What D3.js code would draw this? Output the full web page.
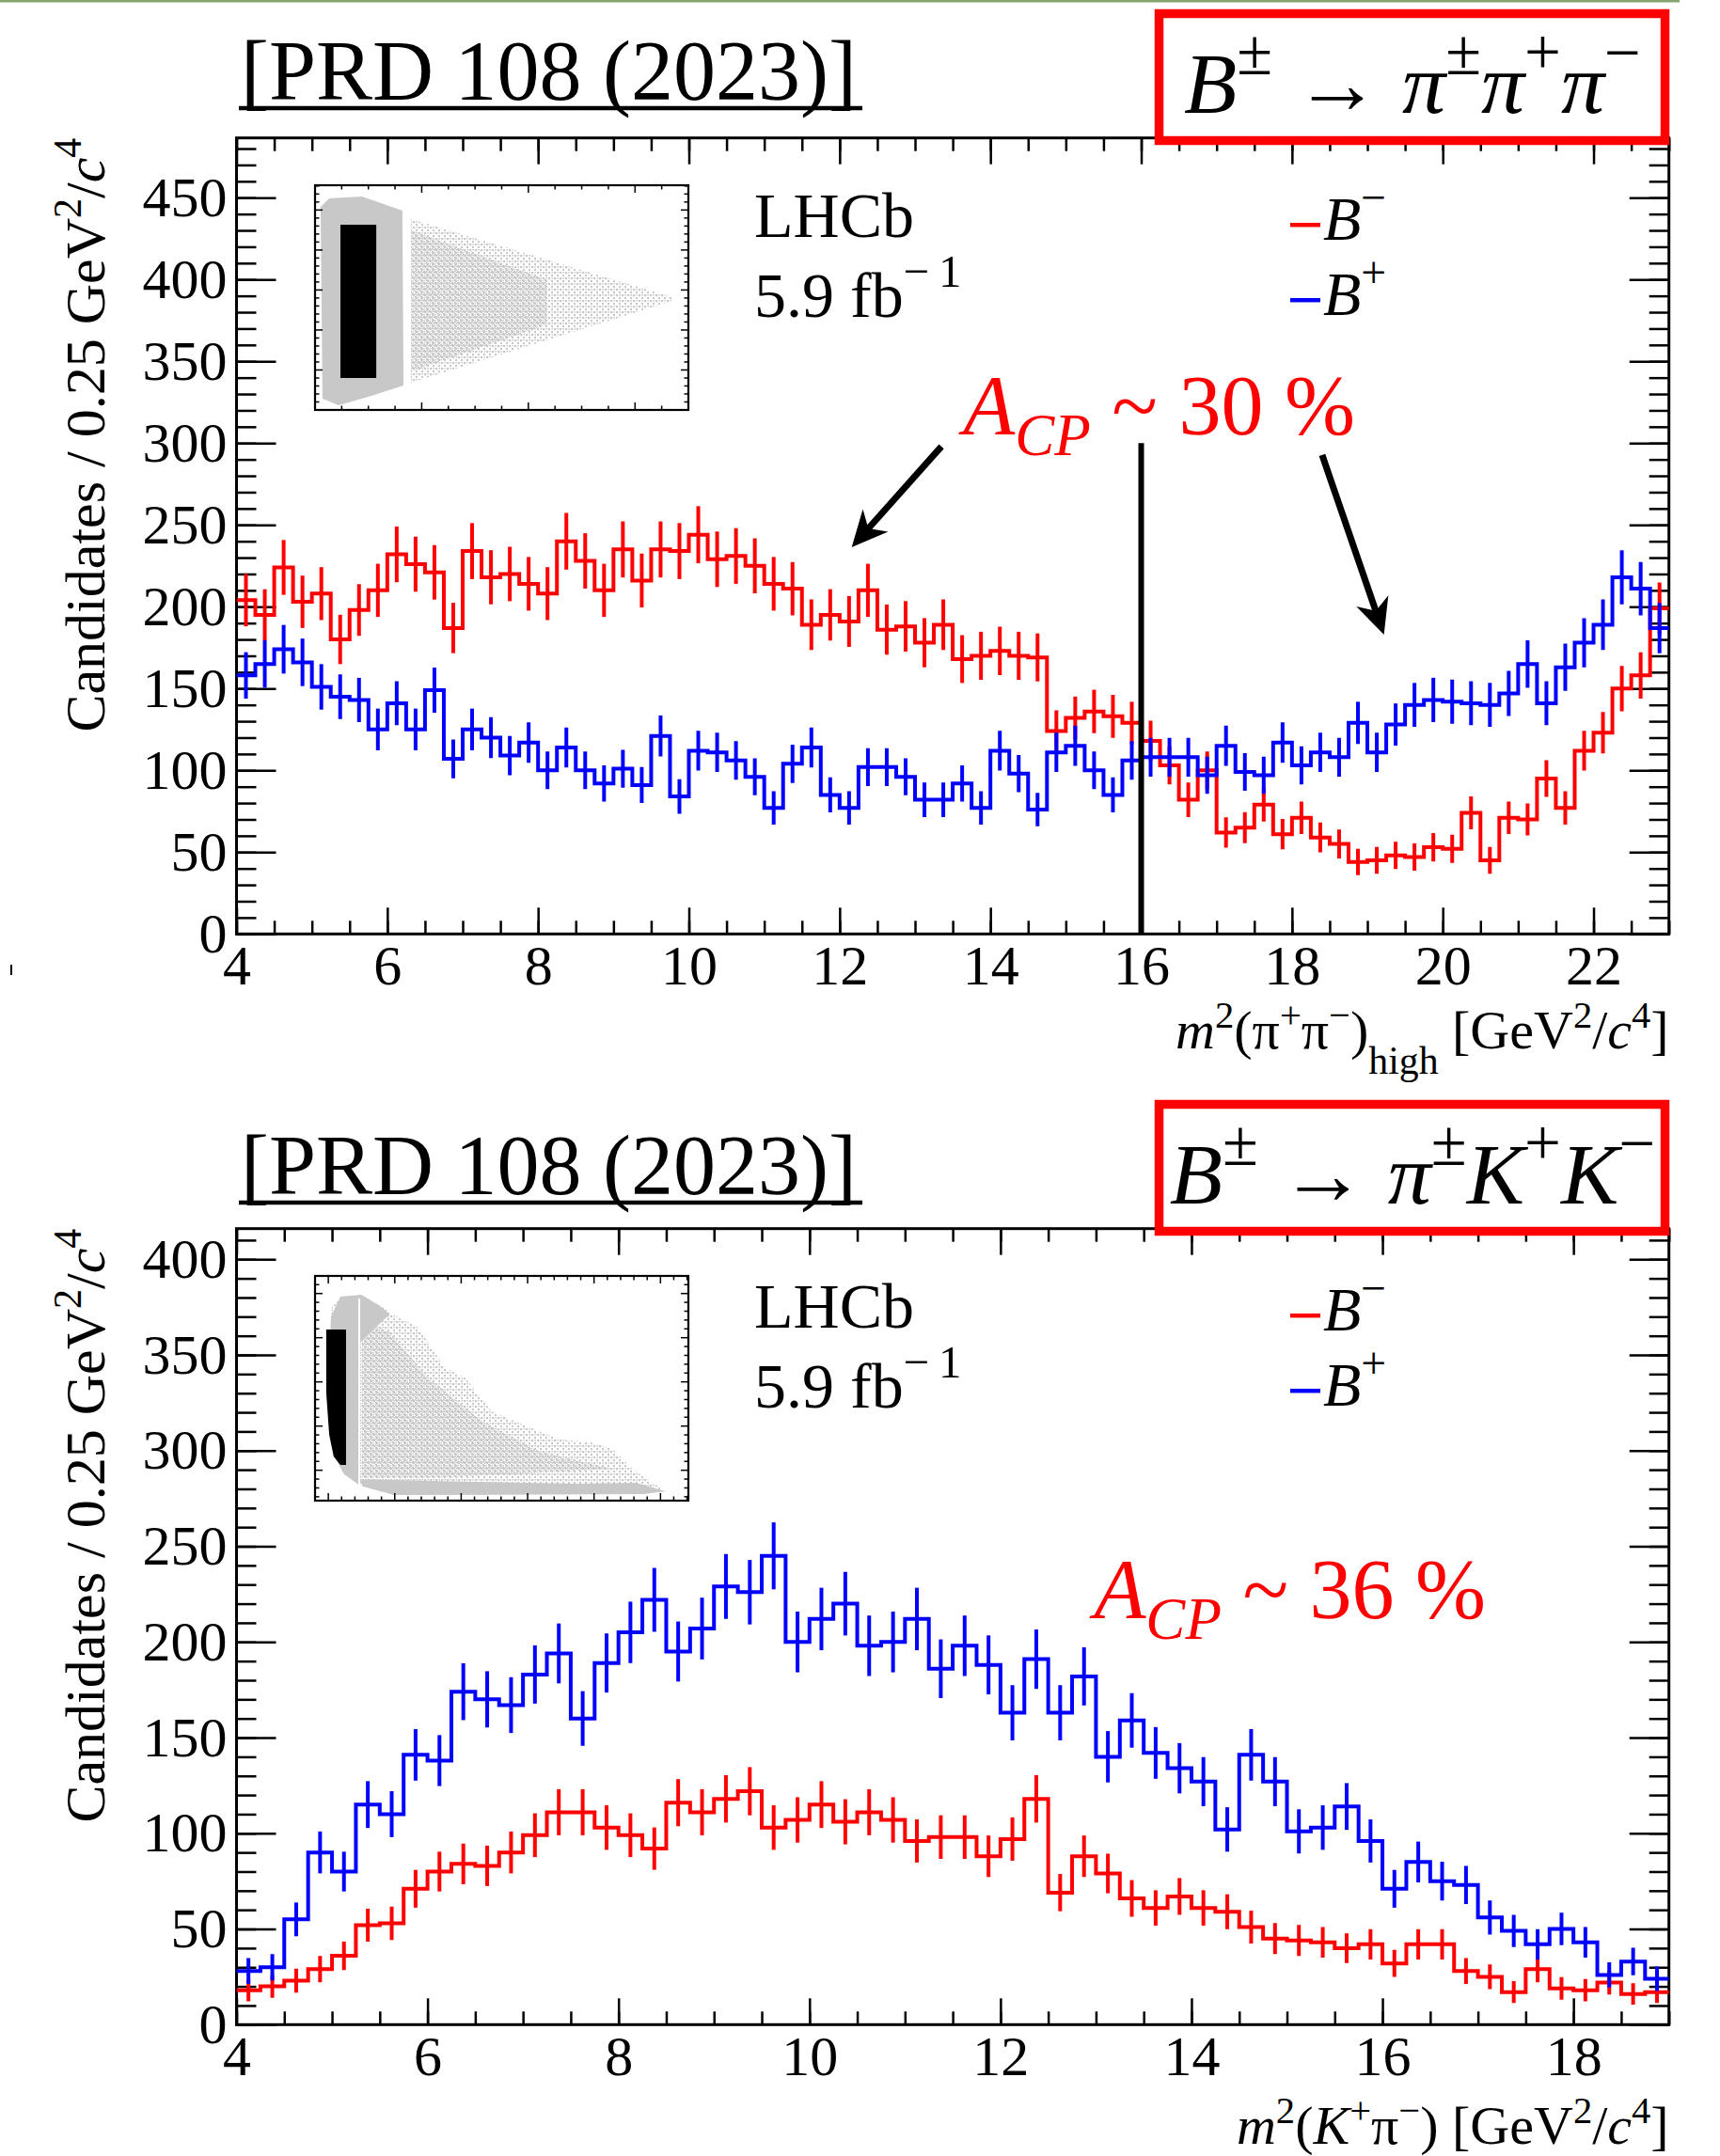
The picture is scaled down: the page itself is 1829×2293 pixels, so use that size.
<!DOCTYPE html>
<html><head><meta charset="utf-8">
<script src="https://cdn.jsdelivr.net/npm/d3@7"></script>
<style>
body{margin:0;background:#fff}
svg{display:block}
text{font-family:"Liberation Serif","Times New Roman",Times,serif}
</style>
</head><body>
<svg id="c" width="1829" height="2293"></svg>
<script>
// ---------------- DATA ----------------
const binWidth = 0.25;
const topXDomain = [4, 23];
const botXDomain = [4, 19];
const topYMax = 486.5;
const botYMax = 416;
const topYTicks = [0,50,100,150,200,250,300,350,400,450];
const botYTicks = [0,50,100,150,200,250,300,350,400];
const topXTicks = [4,6,8,10,12,14,16,18,20,22];
const botXTicks = [4,6,8,10,12,14,16,18];

// B± -> pi± pi+ pi-, m2(pi+pi-)high, bins of 0.25 from 4 to 23
const topRed = [204,195,224,203,208,180,198,210,232,226,221,187,234,218,220,214,208,240,228,210,
  235,216,235,234,244,229,231,225,214,211,189,195,191,210,186,188,178,189,168,170,
  173,170,169,124,132,136,133,129,118,103,82,100,62,65,79,61,71,59,55,44,
  45,48,47,53,52,74,45,71,70,95,77,112,123,150,158,199];
const topBlue = [158,165,174,166,151,145,143,125,141,125,149,107,125,120,109,117,100,114,100,92,
  101,91,121,84,112,111,106,96,77,104,114,85,77,102,102,96,82,82,92,77,
  112,98,76,111,115,100,85,106,108,108,108,97,115,99,97,117,103,111,108,129,
  111,128,140,143,142,141,140,147,165,141,163,178,189,218,211,187];

// B± -> pi± K+ K-, m2(K+pi-), bins of 0.25 from 4 to 19
const botRed = [18,20,23,29,36,52,53,71,80,84,83,90,99,111,111,103,99,92,116,111,
  118,122,103,107,115,106,111,107,96,98,98,88,97,118,69,88,79,66,61,67,
  61,59,51,45,44,43,40,42,32,42,42,28,25,17,29,19,18,22,16,17];
const botBlue = [28,30,55,90,80,115,110,141,138,174,170,167,183,194,160,189,205,222,195,207,
  229,226,245,200,212,220,198,200,212,186,198,188,163,191,163,182,140,159,142,134,
  127,102,141,127,101,103,114,96,71,85,75,73,56,49,42,50,43,26,33,24];

const legendLabels = ["\u2212", "+"];  // B^- (red), B^+ (blue)
const lumiText = "5.9 fb";
const expText = "LHCb";
const refText = "[PRD 108 (2023)]";

// inset (Dalitz-plot thumbnails) outlines, normalized inset coordinates (u right, v down)
const topInsetDense = [[0.015,0.096],[0.038,0.059],[0.126,0.050],[0.234,0.113],[0.237,0.891],[0.151,0.937],[0.063,0.979],[0.020,0.950]];
const topInsetScatter = [[0.257,0.151],[0.957,0.498],[0.957,0.515],[0.257,0.879]];
const topInsetScatterCore = [[0.257,0.2],[0.62,0.42],[0.62,0.62],[0.257,0.83]];
const topInsetBlack = [[0.068,0.176],[0.164,0.176],[0.164,0.858],[0.068,0.858]];
const botInsetScatter = [[0.045,0.142],[0.071,0.092],[0.126,0.088],[0.172,0.130],[0.212,0.176],[0.275,0.226],[0.346,0.406],[0.404,0.456],[0.472,0.603],[0.580,0.678],[0.656,0.728],[0.739,0.741],[0.797,0.770],[0.855,0.866],[0.938,0.958],[0.880,0.971],[0.212,0.975],[0.129,0.937],[0.078,0.883],[0.050,0.799],[0.038,0.351]];
const botInsetScatterCore = [[0.125,0.2],[0.2,0.25],[0.3,0.45],[0.45,0.65],[0.6,0.78],[0.8,0.86],[0.3,0.9],[0.125,0.9]];
const botInsetDense1 = [[0.043,0.18],[0.068,0.092],[0.124,0.084],[0.17,0.13],[0.2,0.17],[0.118,0.30],[0.118,0.93],[0.078,0.883],[0.050,0.799],[0.038,0.351]];
const botInsetDense2 = [[0.118,0.905],[0.4,0.915],[0.7,0.925],[0.86,0.92],[0.938,0.958],[0.880,0.971],[0.212,0.975],[0.129,0.937]];
const botInsetBlack = [[0.030,0.238],[0.083,0.238],[0.083,0.841],[0.068,0.841],[0.050,0.803],[0.038,0.707],[0.030,0.519]];

// ---------------- DRAW ----------------
const svg = d3.select('#c');
const RED = '#ff0000', BLUE = '#0000ff', GRAY = '#c8c8c8';
const defs = svg.append('defs');
const pat = defs.append('pattern').attr('id','dots').attr('patternUnits','userSpaceOnUse').attr('width',6).attr('height',6);
[[0,0,2.4],[3,3,2.4],[3,0,1.6],[0.5,4,1.4]].forEach(([a,b,s])=>pat.append('rect').attr('x',a).attr('y',b).attr('width',s).attr('height',s).attr('fill',GRAY));
const pat2 = defs.append('pattern').attr('id','dots2').attr('patternUnits','userSpaceOnUse').attr('width',6).attr('height',6);
[[1,1,2.2],[4,4,2.2],[4.5,1,1.5]].forEach(([a,b,s])=>pat2.append('rect').attr('x',a).attr('y',b).attr('width',s).attr('height',s).attr('fill',GRAY));

// top thin green rule & stray mark
svg.append('rect').attr('x',0).attr('y',0).attr('width',1786).attr('height',2.5).attr('fill','#86a572');
svg.append('line').attr('x1',12).attr('x2',12).attr('y1',1026).attr('y2',1037).attr('stroke','#000').attr('stroke-width',2);

function rich(g, x, y, parts, size, anchor, fill){
  const t = g.append('text').attr('x',x).attr('y',y).attr('font-size',size)
    .attr('text-anchor',anchor||'start').attr('fill',fill||'#000');
  let cur = 0;
  parts.forEach(p=>{
    const s = t.append('tspan').text(p.t);
    const sh = p.sup ? -(p.up||0.42)*size : (p.sub ? (p.down||0.25)*size : 0);
    s.attr('dy', sh-cur); cur = sh;
    if(p.sup||p.sub) s.attr('font-size',(p.scale||0.7)*size);
    if(p.it) s.attr('font-style','italic');
  });
  return t;
}

const X0 = 251.5, X1 = 1774.7, PH = 846.6;

function styleAxis(a, labels){
  a.select('.domain').remove();
  a.selectAll('.tick line').attr('stroke','#000').attr('stroke-width',2.5);
  a.attr('font-family',null).attr('font-size',null);
  if(labels){ a.selectAll('.tick text').attr('font-size',60).attr('fill','#000')
    .style('font-family','"Liberation Serif","Times New Roman",serif'); }
  else a.selectAll('.tick text').remove();
}

function panel(cfg){
  const g = svg.append('g');
  const y0 = cfg.y0;
  const x = d3.scaleLinear().domain(cfg.xDomain).range([X0, X1]);
  const y = d3.scaleLinear().domain([0, cfg.yMax]).range([y0+PH, y0]);
  const xMinor = d3.range(cfg.xDomain[0], cfg.xDomain[1]+1e-9, 0.5);
  const yMinor = d3.range(0, cfg.yMax, 10);

  // header reference
  g.append('text').attr('x',256).attr('y',cfg.refY).attr('font-size',90).text(refText);
  g.append('line').attr('x1',254).attr('x2',917).attr('y1',cfg.refY+9).attr('y2',cfg.refY+9)
    .attr('stroke','#000').attr('stroke-width',4.5);

  // axes
  const left = g.append('g').attr('transform',`translate(${X0},0)`);
  left.call(d3.axisLeft(y).tickValues(yMinor).tickSize(-21).tickFormat('')); styleAxis(left,false);
  const leftM = g.append('g').attr('transform',`translate(${X0},0)`);
  leftM.call(d3.axisLeft(y).tickValues(cfg.yTicks).tickSize(-42).tickPadding(10).tickFormat(d3.format('d'))); styleAxis(leftM,true);
  const right = g.append('g').attr('transform',`translate(${X1},0)`);
  right.call(d3.axisRight(y).tickValues(yMinor).tickSize(-21).tickFormat('')); styleAxis(right,false);
  const rightM = g.append('g').attr('transform',`translate(${X1},0)`);
  rightM.call(d3.axisRight(y).tickValues(cfg.yTicks).tickSize(-42).tickFormat('')); styleAxis(rightM,false);
  const bot = g.append('g').attr('transform',`translate(0,${y0+PH})`);
  bot.call(d3.axisBottom(x).tickValues(xMinor).tickSize(-14).tickFormat('')); styleAxis(bot,false);
  const botM = g.append('g').attr('transform',`translate(0,${y0+PH})`);
  botM.call(d3.axisBottom(x).tickValues(cfg.xTicks).tickSize(-28).tickPadding(11).tickFormat(d3.format('d'))); styleAxis(botM,true);
  const topA = g.append('g').attr('transform',`translate(0,${y0})`);
  topA.call(d3.axisTop(x).tickValues(xMinor).tickSize(-14).tickFormat('')); styleAxis(topA,false);
  const topM = g.append('g').attr('transform',`translate(0,${y0})`);
  topM.call(d3.axisTop(x).tickValues(cfg.xTicks).tickSize(-28).tickFormat('')); styleAxis(topM,false);

  // frame
  g.append('rect').attr('x',X0).attr('y',y0).attr('width',X1-X0).attr('height',PH)
    .attr('fill','none').attr('stroke','#000').attr('stroke-width',3);

  // titles
  rich(g, 111, y0, [{t:'Candidates / 0.25 GeV'},{t:'2',sup:true},{t:'/'},{t:'c',it:true},{t:'4',sup:true}], 60, 'end')
    .attr('transform',`rotate(-90,111,${y0})`);
  rich(g, X1, cfg.xTitleY, cfg.xTitle, 58, 'end');

  // clip
  const cid = 'clip'+cfg.id;
  defs.append('clipPath').attr('id',cid).append('rect').attr('x',X0).attr('y',y0).attr('width',X1-X0).attr('height',PH);
  const plot = g.append('g').attr('clip-path',`url(#${cid})`);

  const line = d3.line().curve(d3.curveStepAfter);
  function hist(vals, color){
    const xmin = cfg.xDomain[0];
    const pts = vals.map((v,i)=>[x(xmin+i*binWidth), y(v)]);
    pts.push([x(xmin+vals.length*binWidth), y(vals[vals.length-1])]);
    const hg = plot.append('g');
    hg.append('path').attr('d',line(pts)).attr('fill','none').attr('stroke',color)
      .attr('stroke-width',4).attr('stroke-linejoin','miter');
    // statistical uncertainty bars
    hg.selectAll('line.err').data(vals).join('line').attr('class','err')
      .attr('x1',(v,i)=>x(xmin+(i+0.5)*binWidth)).attr('x2',(v,i)=>x(xmin+(i+0.5)*binWidth))
      .attr('y1',v=>y(v-Math.sqrt(1.2*v+12))).attr('y2',v=>y(v+Math.sqrt(1.2*v+12)))
      .attr('stroke',color).attr('stroke-width',4);
  }
  hist(cfg.red, RED);
  hist(cfg.blue, BLUE);

  // LHCb label and legend
  g.append('text').attr('x',802).attr('y',y0+105.5).attr('font-size',68).text(expText);
  rich(g, 802, y0+190.5, [{t:lumiText},{t:'\u2212\u20091',sup:true,up:0.47,scale:0.72}], 68);
  const lg = [[RED, legendLabels[0], 92.5],[BLUE, legendLabels[1], 172.5]];
  lg.forEach(([c,lab,dy])=>{
    g.append('line').attr('x1',1372).attr('x2',1404).attr('y1',y0+dy).attr('y2',y0+dy).attr('stroke',c).attr('stroke-width',4.5);
    rich(g, 1407, y0+dy+16, [{t:'B',it:true},{t:lab,sup:true,up:0.44,scale:0.72}], 66);
  });

  // inset
  const ins = g.append('g');
  const ix = d3.scaleLinear().domain([0,1]).range([335, 732]);
  const iy = d3.scaleLinear().domain([0,1]).range([y0+50.3, y0+289.3]);
  const poly = pts => 'M'+pts.map(p=>ix(p[0])+','+iy(p[1])).join('L')+'Z';
  cfg.inset.forEach(s=>{
    ins.append('path').attr('d',poly(s.pts)).attr('fill',s.fill);
  });
  if(cfg.insetGap) ins.append('line').attr('x1',ix(cfg.insetGap[0])).attr('x2',ix(cfg.insetGap[0]))
      .attr('y1',iy(cfg.insetGap[1])).attr('y2',iy(cfg.insetGap[2])).attr('stroke','#fff').attr('stroke-width',2);
  cfg.insetBlack.forEach(b=>ins.append('path').attr('d',poly(b)).attr('fill','#000'));
  // inset ticks
  const tx = d3.scaleLinear().domain(cfg.insetXDom).range([335,732]);
  const ty = d3.scaleLinear().domain(cfg.insetYDom).range([y0+289.3, y0+50.3]);
  const txs = d3.range(Math.ceil(cfg.insetXDom[0]), cfg.insetXDom[1], 1);
  const tys = d3.range(Math.ceil(cfg.insetYDom[0]), cfg.insetYDom[1], 1);
  const tk = ins.append('g').attr('stroke','#000').attr('stroke-width',1.5);
  txs.forEach(v=>{ const L = v%cfg.insetXMaj===0?8:4.5;
    tk.append('line').attr('x1',tx(v)).attr('x2',tx(v)).attr('y1',y0+289.3).attr('y2',y0+289.3-L);
    tk.append('line').attr('x1',tx(v)).attr('x2',tx(v)).attr('y1',y0+50.3).attr('y2',y0+50.3+L); });
  tys.forEach(v=>{ const L = v%5===0?8:4.5;
    tk.append('line').attr('y1',ty(v)).attr('y2',ty(v)).attr('x1',335).attr('x2',335+L);
    tk.append('line').attr('y1',ty(v)).attr('y2',ty(v)).attr('x1',732).attr('x2',732-L); });
  ins.append('rect').attr('x',335).attr('y',y0+50.3).attr('width',397).attr('height',239)
    .attr('fill','none').attr('stroke','#000').attr('stroke-width',2.2);

  // red decay box (drawn over the frame)
  g.append('rect').attr('x',1232.5).attr('y',y0-132.2).attr('width',538).attr('height',135)
    .attr('fill','#fff').attr('stroke',RED).attr('stroke-width',9.5);
  rich(g, 1502, y0-26.7, cfg.decay, 92, 'middle');

  return {g,x,y};
}

const supD = {sup:true,up:0.45,scale:0.75};
const P1 = panel({id:1, y0:146.7, xDomain:topXDomain, yMax:topYMax, xTicks:topXTicks, yTicks:topYTicks,
  red:topRed, blue:topBlue, refY:106, xTitleY:1115,
  xTitle:[{t:'m',it:true},{t:'2',sup:true,up:0.38},{t:'(\u03c0'},{t:'+',sup:true,up:0.38},{t:'\u03c0'},{t:'\u2212',sup:true,up:0.38},{t:')'},{t:'high',sub:true,down:0.46,scale:0.72},{t:' [GeV'},{t:'2',sup:true,up:0.38},{t:'/'},{t:'c',it:true},{t:'4',sup:true,up:0.38},{t:']'}],
  decay:[{t:'B',it:true},Object.assign({t:'\u00b1'},supD),{t:' \u2192 '},{t:'\u03c0',it:true},Object.assign({t:'\u00b1'},supD),{t:'\u03c0',it:true},Object.assign({t:'+'},supD),{t:'\u03c0',it:true},Object.assign({t:'\u2212'},supD)],
  inset:[{pts:topInsetScatter, fill:'url(#dots2)'},{pts:topInsetScatterCore, fill:'url(#dots)'},{pts:topInsetDense, fill:GRAY}],
  insetBlack:[topInsetBlack], insetXDom:[0,14], insetXMaj:4, insetYDom:[0,28.1]});

const P2 = panel({id:2, y0:1306.7, xDomain:botXDomain, yMax:botYMax, xTicks:botXTicks, yTicks:botYTicks,
  red:botRed, blue:botBlue, refY:1270, xTitleY:2280,
  xTitle:[{t:'m',it:true},{t:'2',sup:true,up:0.38},{t:'('},{t:'K',it:true},{t:'+',sup:true,up:0.38},{t:'\u03c0'},{t:'\u2212',sup:true,up:0.38},{t:') [GeV'},{t:'2',sup:true,up:0.38},{t:'/'},{t:'c',it:true},{t:'4',sup:true,up:0.38},{t:']'}],
  decay:[{t:'B',it:true},Object.assign({t:'\u00b1'},supD),{t:' \u2192 '},{t:'\u03c0',it:true},Object.assign({t:'\u00b1'},supD),{t:'K',it:true},Object.assign({t:'+'},supD),{t:'K',it:true},Object.assign({t:'\u2212'},supD)],
  inset:[{pts:botInsetScatter, fill:'url(#dots2)'},{pts:botInsetScatterCore, fill:'url(#dots)'},{pts:botInsetDense1, fill:GRAY},{pts:botInsetDense2, fill:GRAY}],
  insetGap:[0.1185,0.1,0.93],
  insetBlack:[botInsetBlack], insetXDom:[-1,27.1], insetXMaj:5, insetYDom:[1.56,26.99]});

// ---- annotations (top panel) ----
const ann = svg.append('g');
const ax = P1.x, ay = P1.y;
// separating line at m2 = 16
ann.append('line').attr('x1',ax(16)).attr('x2',ax(16)).attr('y1',ay(0)).attr('y2',ay(300))
  .attr('stroke','#000').attr('stroke-width',6);
function arrow(g, x1,y1,x2,y2){
  const dx=x2-x1, dy=y2-y1, L=Math.hypot(dx,dy), ux=dx/L, uy=dy/L;
  const hl=38, hw=18, bx=x2-ux*hl, by=y2-uy*hl;
  g.append('line').attr('x1',x1).attr('y1',y1).attr('x2',x2-ux*20).attr('y2',y2-uy*20)
    .attr('stroke','#000').attr('stroke-width',7);
  g.append('path').attr('d',`M${x2},${y2}L${bx-uy*hw},${by+ux*hw}L${x2-ux*hl*0.7},${y2-uy*hl*0.7}L${bx+uy*hw},${by-ux*hw}Z`).attr('fill','#000');
}
arrow(ann, ax(13.35), ay(297.9), ax(12.16), ay(236.4));
arrow(ann, ax(18.40), ay(292.7), ax(19.22), ay(182.9));
rich(ann, ax(13.64), ay(305.3), [{t:'A',it:true},{t:'CP',it:true,sub:true,down:0.24,scale:0.7},{t:' ~ 30 %'}], 90, 'start', RED);
// bottom panel asymmetry label
rich(ann, P2.x(12.98), P2.y(212.3), [{t:'A',it:true},{t:'CP',it:true,sub:true,down:0.24,scale:0.7},{t:' ~ 36 %'}], 90, 'start', RED);
</script>
</body></html>
